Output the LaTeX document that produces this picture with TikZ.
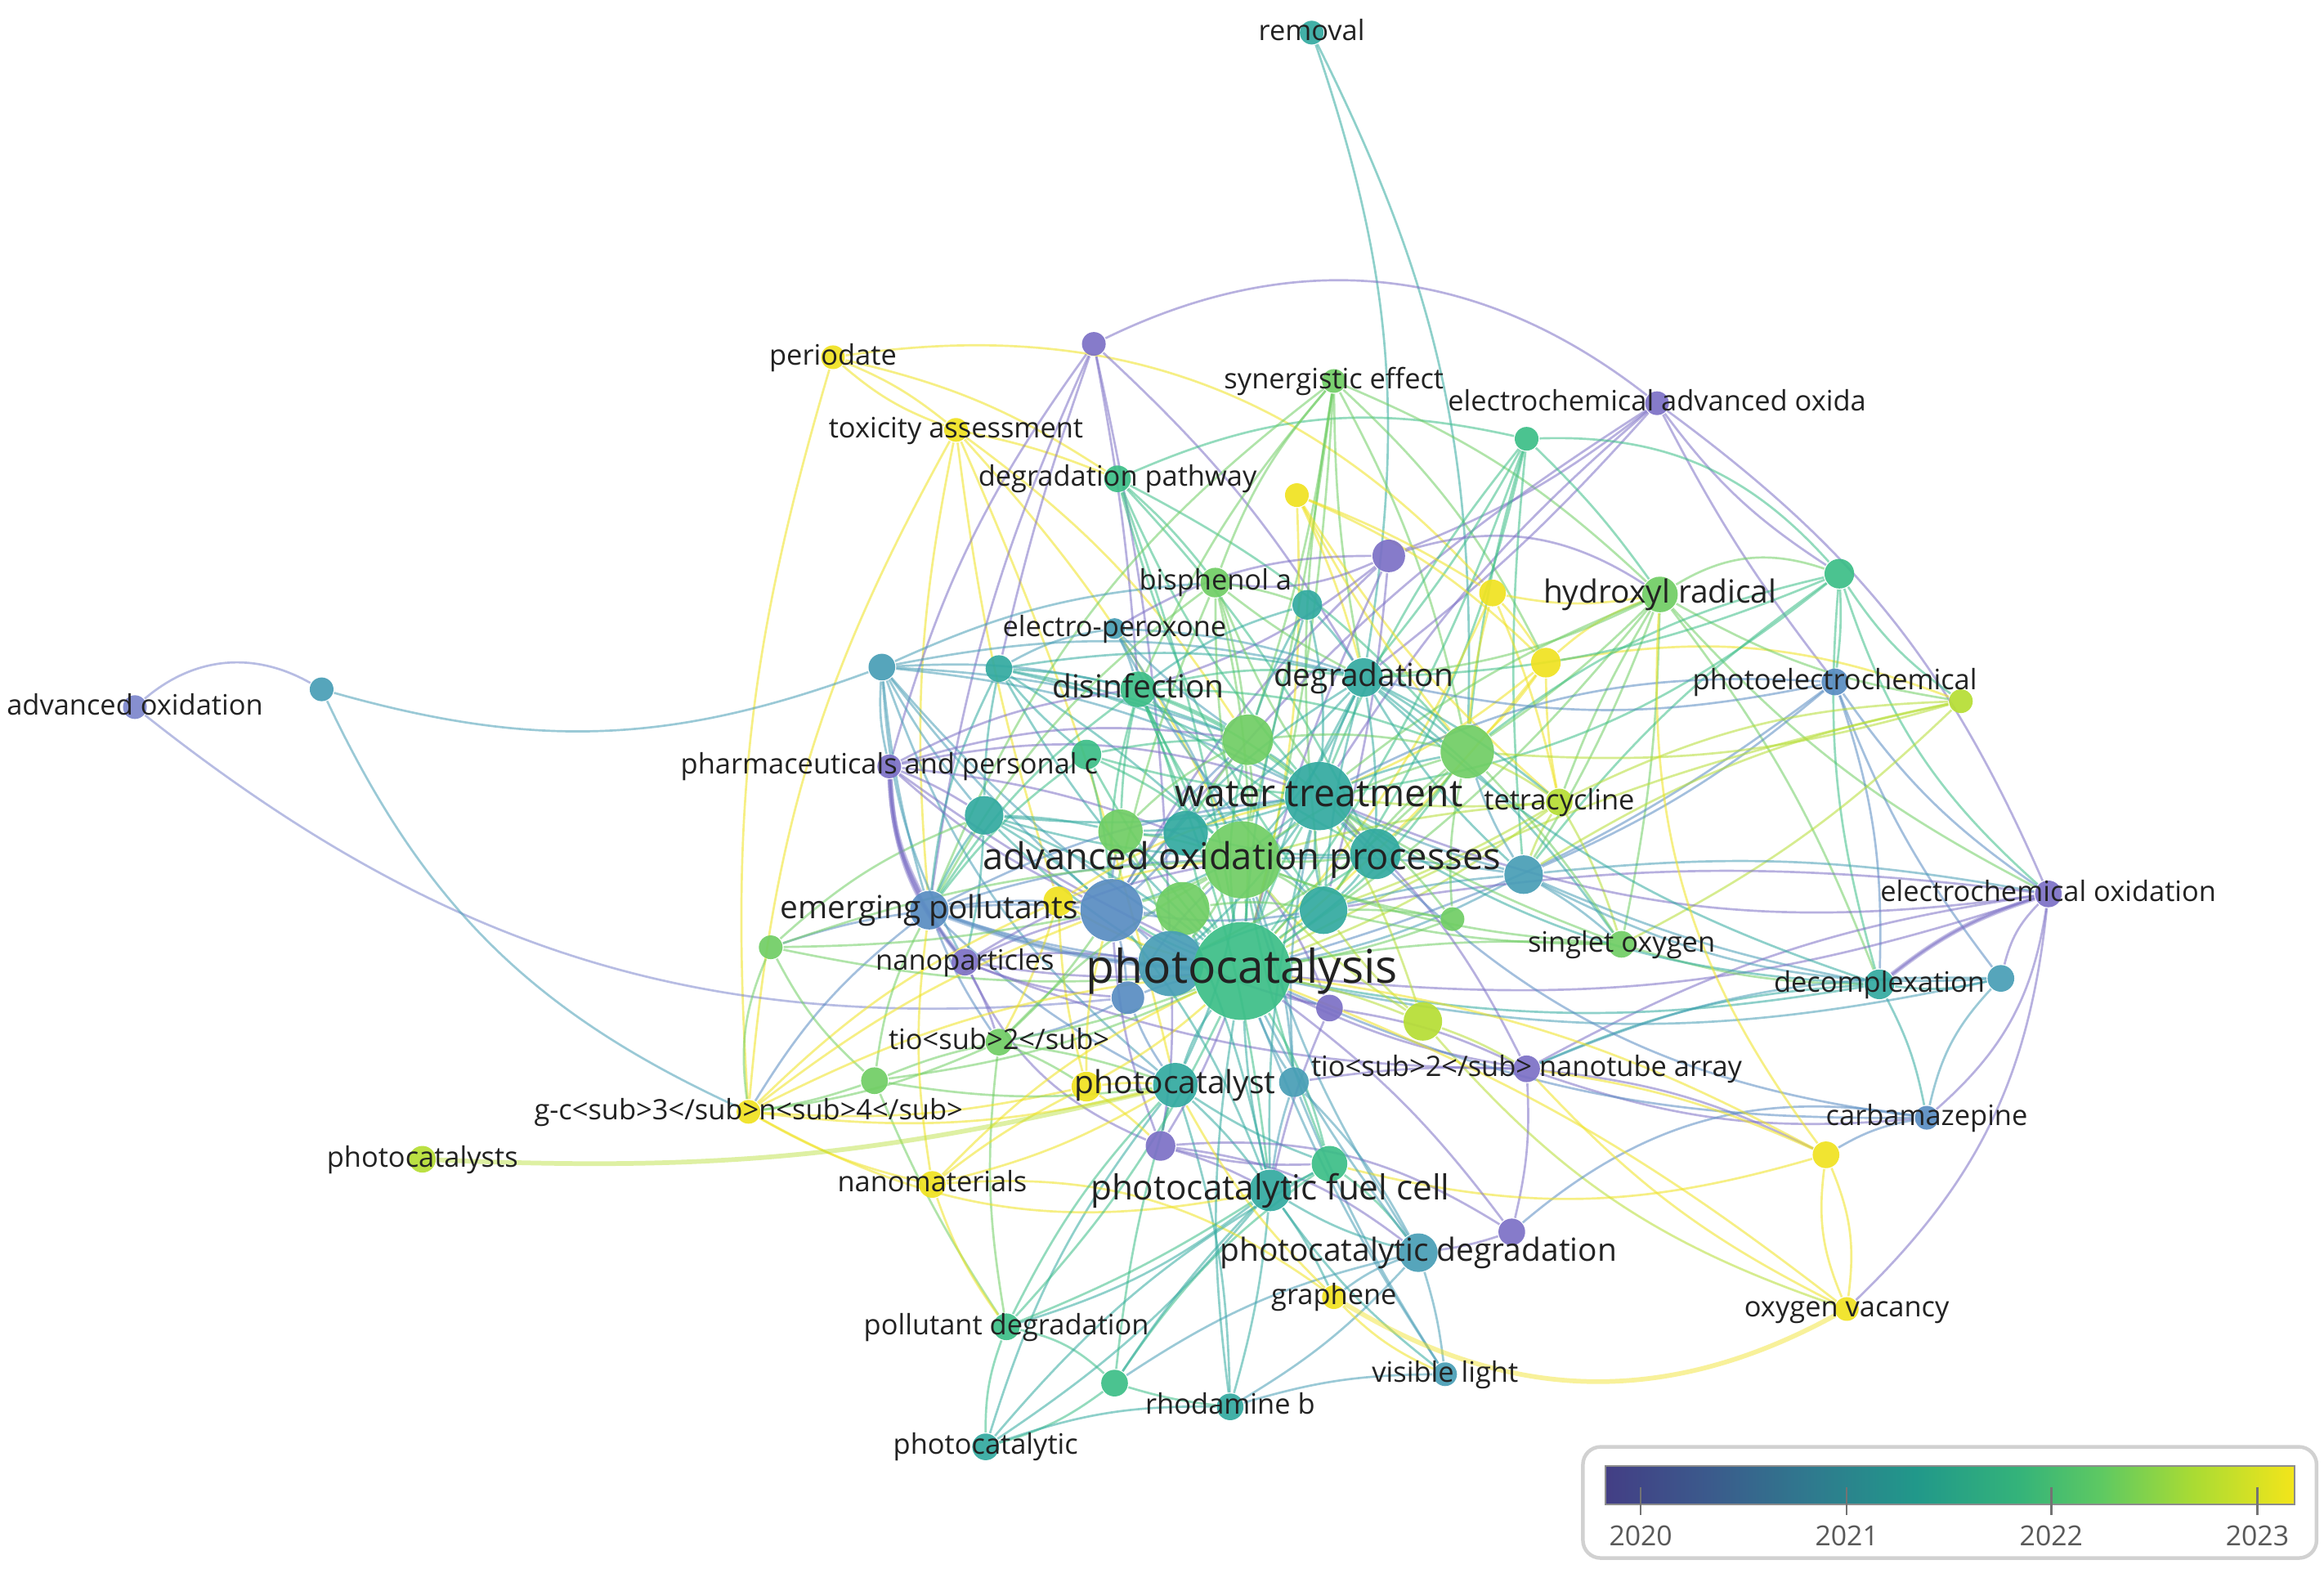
\documentclass[tikz,border=0pt]{standalone}
\usepackage{fontspec}
\setmainfont{Open Sans}
\definecolor{P}{RGB}{124,112,198}
\definecolor{PB}{RGB}{124,134,204}
\definecolor{B}{RGB}{88,140,194}
\definecolor{BT}{RGB}{72,158,182}
\definecolor{T}{RGB}{50,170,160}
\definecolor{TG}{RGB}{60,190,135}
\definecolor{G}{RGB}{112,206,100}
\definecolor{YG}{RGB}{182,222,52}
\definecolor{Y}{RGB}{240,226,32}
\definecolor{labc}{RGB}{34,34,34}
\definecolor{v0}{RGB}{67,62,133}
\definecolor{v1}{RGB}{59,90,140}
\definecolor{v2}{RGB}{47,122,142}
\definecolor{v3}{RGB}{33,152,138}
\definecolor{v4}{RGB}{52,179,122}
\definecolor{v5}{RGB}{94,201,98}
\definecolor{v6}{RGB}{168,219,52}
\definecolor{v7}{RGB}{243,229,26}
\pgfdeclarehorizontalshading{viridis}{100bp}{color(0bp)=(v0); color(25bp)=(v0); color(32.5bp)=(v1); color(40bp)=(v2); color(47.5bp)=(v3); color(55bp)=(v4); color(61bp)=(v5); color(67.5bp)=(v6); color(75bp)=(v7); color(100bp)=(v7)}
\pgfdeclarelayer{bg}
\pgfdeclarelayer{edges}
\pgfsetlayers{bg,edges,main}
\tikzset{
 kw/.style={circle, inner sep=0pt, draw=none, fill opacity=0.92},
 edge/.style={line width=0.42pt, draw opacity=0.55},
 lab/.style={text=labc, inner sep=0pt, anchor=base},
 ls/.style={lab, font=\fontsize{5.4}{6}\selectfont, yshift=-1.46pt},
 lm/.style={lab, font=\fontsize{6.1}{7}\selectfont, yshift=-1.65pt},
 lw/.style={lab, font=\fontsize{7.28}{8}\selectfont, yshift=-1.97pt},
 la/.style={lab, font=\fontsize{7.1}{8}\selectfont, yshift=-1.92pt},
 lp/.style={lab, font=\fontsize{8.93}{10}\selectfont, yshift=-2.41pt},
 lf/.style={lab, font=\fontsize{6.63}{7}\selectfont, yshift=-1.79pt},
 yr/.style={text=black!65, font=\fontsize{5.3}{6}\selectfont, inner sep=0pt}
}
\begin{document}
\begin{tikzpicture}[x=0.01cm, y=-0.01cm]
\begin{pgfonlayer}{bg}
\fill[white] (0,0) rectangle (1568,1064);
\end{pgfonlayer}
\useasboundingbox (0,0) rectangle (1568,1064);
\foreach \n/\x/\y/\r/\c in {
rem/885/22/8/T, peri/562/241/8/Y, tox/645/290/8/Y, dpath/754/323/9/TG, syn/900/257/8/G,
eaop/1118/272/8/P, p1/738/232/8/P, y1/875/334/8/Y, t1/1030/296/8/TG, p2/937/375/11/P,
y2/1007/400/9/Y, y3/1043/447/10/Y, bpa/820/393/10/G, t2/882/408/10/T, hrad/1120/401/12/G,
t3/1241/387/10/TG, epx/752/424/7/BT, t4/595/450/9/BT, t5/674/451/9/T, dis/768/465/12/TG,
deg/920/457/13/T, pec/1238/460/9/B, yg1/1323/473/8/YG, aox/91/477/8/PB, bt1/217/465/8/BT,
g1/842/499/17/G, g2/990/507/18/G, pharm/600/517/8/P, g3/733/509/10/TG, wt/890/537/23/T,
tet/1052/541/9/YG, t6/664/550/13/T, t7/800/562/15/T, g4/756/561/15/G, aopr/838/580/26/G,
t8/928/576/17/T, bt2/1028/590/13/BT, eox/1382/603/9/P, emp/627/614/13/B, y4/714/608/10/Y,
b1/750/614/21/B, g5/798/613/18/G, t9/893/614/16/T, g6/980/620/8/G, g7/520/639/8/G,
nano/651/649/9/P, bt3/790/650/22/BT, pcat/838/655/33/TG, so/1094/637/9/G, decom/1268/664/10/T,
bt4/1350/660/9/BT, b2/761/673/11/B, p3/897/680/9/P, yg2/960/689/13/YG, tio2/674/703/9/G,
tna/1030/721/9/P, pcst/793/732/15/T, y5/733/733/10/Y, t10/873/730/10/BT, g8/590/729/9/G,
gcn/505/750/8/Y, carb/1300/754/8/B, pcsts/285/782/9/YG, p4/783/773/10/P, t11/897/785/12/TG,
pfc/857/803/14/T, nmat/629/799/9/Y, y6/1232/779/9/Y, p5/1020/831/9/P, pdeg/957/845/13/BT,
graph/900/875/8/Y, ovac/1246/883/8/Y, poldeg/679/895/9/TG, vis/975/927/8/BT, t12/752/933/9/TG,
rhod/830/949/9/T, pcic/665/976/9/T}{
  \xglobal\colorlet{c\n}{\c}
  \node[kw, fill=\c, minimum size=\r*0.02cm] (\n) at (\x,\y) {};
}
\begin{pgfonlayer}{edges}
\foreach \a/\b/\d in {
rem/deg/14, rem/g2/14, p1/eaop/32, peri/y2/28, peri/tox/8, peri/tox/-10, peri/dpath/10, peri/gcn/-10,
tox/y4/-5, tox/emp/-8, tox/pcst/5, tox/aopr/8, tox/gcn/-12, tox/g1/10, tox/dpath/5,
p1/pharm/-10, p1/t5/-3, p1/dis/3, p1/emp/-8, p1/deg/8, p1/bt3/5,
dpath/t1/18, dpath/g2/10, dpath/pcat/5, dpath/t8/8, dpath/bpa/5, dpath/wt/-8, dpath/t9/-10,
syn/g1/5, syn/deg/-5, syn/pcat/5, syn/t9/-8, syn/g2/8, syn/bpa/-10, syn/hrad/10, syn/dis/-8, syn/aopr/3, syn/y3/10, syn/emp/-15,
eaop/t3/-10, eaop/eox/15, eaop/p2/8, eaop/deg/5, eaop/pec/-5, eaop/wt/-8, eaop/b1/-10,
t1/t3/25, t1/g2/-5, t1/deg/5, t1/pcat/8, t1/wt/-8, t1/hrad/5, t1/t9/10, t1/bt2/-5,
y1/y2/5, y1/g2/-5, y1/deg/5, y1/y3/10, y1/tet/-8, y1/pcat/8,
p2/bpa/15, p2/hrad/25, p2/epx/-15, p2/t9/5, p2/pcat/-5, p2/b1/-8, p2/dis/10,
y2/y3/5, y2/g2/-5, y2/tet/5, y2/pcat/8, y2/hrad/-10,
y3/g2/5, y3/tet/-5, y3/wt/8, y3/pcat/5, y3/hrad/10, y3/yg1/15,
hrad/t3/25, hrad/g2/5, hrad/wt/-8, hrad/pcat/8, hrad/so/5, hrad/tet/-5, hrad/yg1/-10, hrad/deg/10, hrad/eox/-10, hrad/decom/8, hrad/bt2/5,
t3/pec/5, t3/yg1/-10, t3/eox/-15, t3/g2/-12, t3/deg/10, t3/bt2/-8, t3/decom/-10, t3/wt/15,
pec/eox/-10, pec/decom/10, pec/bt2/8, pec/wt/-15, pec/deg/12, pec/bt4/-8, pec/pcat/10,
yg1/g2/10, yg1/bt2/-10, yg1/so/8, yg1/tet/-12, yg1/pcat/-8,
aox/bt1/35, aox/b2/-22, bt1/t4/-18, bt1/gcn/-20,
t4/emp/-5, t4/pharm/-8, t4/dis/8, t4/wt/10, t4/t6/-5, t4/pcat/-8, t4/nano/-12, t4/b1/-5, t4/g1/8, t4/deg/12, t4/bpa/10, t4/pcst/-15,
t5/dis/5, t5/g3/-5, t5/pcat/-8, t5/aopr/5, t5/wt/8, t5/t6/-5, t5/emp/-10, t5/g1/5, t5/deg/10,
epx/dis/5, epx/deg/8, epx/g1/-5, epx/t9/-8, epx/aopr/5, epx/t5/-10,
bpa/g1/5, bpa/deg/-5, bpa/pcat/8, bpa/aopr/-5, bpa/t2/5, bpa/t8/-8, bpa/emp/-12, bpa/b1/-5,
t2/deg/5, t2/g1/-5, t2/wt/8, t2/pcat/-6, t2/dis/-10,
dis/g1/5, dis/wt/8, dis/aopr/-5, dis/pcat/6, dis/deg/10, dis/g4/-5, dis/t7/5, dis/b1/-8, dis/emp/-10, dis/pfc/8, dis/t8/-6, dis/g2/10,
deg/g2/5, deg/wt/-5, deg/aopr/8, deg/pcat/-6, deg/t8/5, deg/bt2/-8, deg/tet/6, deg/t9/-5, deg/so/8, deg/b1/-10, deg/t7/6,
pharm/emp/-12, pharm/nano/-18, pharm/b1/-8, pharm/t6/5, pharm/wt/15, pharm/aopr/8, pharm/dis/10, pharm/pcat/-5, pharm/g1/12,
g3/g1/5, g3/wt/-5, g3/aopr/8, g3/pcat/-6, g3/b1/5, g3/emp/-8,
tet/wt/5, tet/aopr/-5, tet/pcat/8, tet/g2/-5, tet/so/6, tet/bt2/-6, tet/t9/5,
t6/emp/-5, t6/b1/5, t6/aopr/-5, t6/pcat/8, t6/wt/-8, t6/nano/5, t6/g4/5, t6/bt3/-6,
bt2/eox/8, bt2/decom/-6, bt2/wt/5, bt2/aopr/-5, bt2/pcat/8, bt2/so/5, bt2/t9/-5, bt2/g2/6,
eox/decom/-10, eox/bt4/-15, eox/carb/20, eox/wt/15, eox/ovac/20, eox/pcat/12, eox/tna/-10, eox/t9/-8,
emp/nano/-5, emp/b1/5, emp/pcat/-8, emp/aopr/8, emp/wt/10, emp/g7/-5, emp/gcn/-10, emp/y4/5, emp/pcst/-8, emp/tio2/-6, emp/bt3/-5,
y4/b1/5, y4/pcat/-8, y4/aopr/8, y4/gcn/-10, y4/y5/-6, y4/tio2/5, y4/wt/10,
g7/b1/-5, g7/aopr/8, g7/pcat/-8, g7/gcn/-15, g7/t6/10, g7/g8/-10,
nano/b1/5, nano/pcat/-6, nano/bt3/8, nano/p4/-20, nano/tio2/5, nano/aopr/10, nano/tna/-10, nano/b2/-8,
so/wt/5, so/pcat/-6, so/aopr/8, so/g2/-5, so/decom/-8, so/t9/6,
decom/bt4/-10, decom/carb/8, decom/tna/-10, decom/wt/15, decom/pcat/10, decom/deg/12,
bt4/carb/-15, bt4/tna/-12, bt4/bt2/15, bt4/pcat/12,
b2/pcat/5, b2/b1/-5, b2/aopr/8, b2/pcst/-6, b2/tio2/8,
p3/pcat/5, p3/aopr/-8, p3/tna/8, p3/pfc/-5, p3/b1/10,
yg2/pcat/-5, yg2/aopr/8, yg2/wt/-6, yg2/tna/5, yg2/t9/6, yg2/ovac/-15,
tio2/pcat/-5, tio2/pcst/5, tio2/g8/-5, tio2/gcn/8, tio2/y5/5, tio2/b1/-6, tio2/poldeg/-8, tio2/aopr/8,
tna/carb/-12, tna/pcat/8, tna/t10/-5, tna/y6/10, tna/wt/-10, tna/p5/8,
pcst/pfc/5, pcst/p4/-5, pcst/pcat/8, pcst/t11/-6, pcst/pcic/-10, pcst/rhod/8, pcst/aopr/-8,
y5/pcst/5, y5/nmat/-5, y5/gcn/8, y5/pcat/-6, y5/p4/5, y5/b1/8,
t10/pcat/5, t10/pfc/-5, t10/pdeg/8, t10/vis/-5, t10/aopr/-8, t10/wt/8,
g8/gcn/5, g8/pcat/-8, g8/poldeg/-5, g8/emp/10, g8/pcst/-8,
gcn/nmat/-8, gcn/pcst/-10, gcn/pfc/-20, gcn/pcat/10, gcn/b1/8,
carb/y6/-10, carb/p5/-25, carb/wt/20, carb/pcat/12,
p4/pfc/5, p4/pcat/-5, p4/p5/18, p4/pdeg/15, p4/t11/-8, p4/b1/8, p4/bt3/-5,
t11/pfc/5, t11/pcat/-8, t11/pdeg/8, t11/t12/-10, t11/aopr/5,
pfc/pcat/5, pfc/pdeg/-8, pfc/rhod/5, pfc/t12/-5, pfc/pcic/8, pfc/vis/-8, pfc/graph/5, pfc/poldeg/10, pfc/b1/-8, pfc/wt/8, pfc/g5/-5,
nmat/poldeg/-8, nmat/graph/20, nmat/emp/8, nmat/pcst/-8, nmat/pcat/10,
y6/ovac/-15, y6/ovac/15, y6/tna/-8, y6/t11/15, y6/pcat/-10, y6/hrad/20,
p5/pdeg/5, p5/pcat/-8,
pdeg/vis/5, pdeg/graph/-8, pdeg/pcat/5, pdeg/rhod/8, pdeg/t12/-10, pdeg/aopr/8,
graph/vis/-10, graph/pcst/8,
ovac/tna/10, ovac/pcat/-8,
poldeg/pcic/-10, poldeg/t12/15, poldeg/pfc/-5, poldeg/pcst/8, poldeg/pcat/-8,
vis/rhod/-8, vis/pcat/6, t12/pcic/10, t12/rhod/-5, t12/pcst/5, rhod/pcic/-10, rhod/pcat/8, pcic/t11/10,
pcat/wt/5, pcat/aopr/-5, pcat/b1/5, pcat/g5/-5, pcat/t9/5, pcat/t7/8, pcat/g4/-8, pcat/g1/10, pcat/g2/-10, pcat/t8/8,
wt/aopr/8, wt/g1/-5, wt/g2/5, wt/t7/-8, wt/g4/8, wt/t8/-5, wt/b1/10, wt/t9/-8, wt/bt3/6,
aopr/b1/5, aopr/g1/-8, aopr/g2/8, aopr/g5/-5, aopr/t7/5, aopr/g4/-5, aopr/t9/8, aopr/t8/-5, aopr/bt3/5,
b1/bt3/5, b1/g5/-6, b1/g4/5, b1/t7/-5, b1/g1/8, b1/t9/-8,
g1/g2/8, g1/t7/-5, g1/t8/6, g1/g4/-8, g2/t8/5, g2/t9/-8, g2/bt3/10,
t9/bt3/-5, g5/bt3/5, g5/t9/8, t7/g4/5, t7/t8/-8, g4/bt3/8, t8/t9/5,
g6/pcat/5, g6/wt/-8, g6/aopr/5, g6/t9/-5, g6/g2/8}
  \draw[edge, draw=c\a] (\a) to[bend left=\d] (\b);
\foreach \a/\b/\d/\w in {pharm/emp/-12/1, pharm/nano/-18/0.9, emp/pcat/-8/1, eox/decom/-10/0.9, ovac/graph/30/0.9, pcsts/pcst/-8/0.9}
  \draw[line width=\w pt, draw opacity=0.45, draw=c\a] (\a) to[bend left=\d] (\b);
\end{pgfonlayer}
% labels
\node[ls] (l-rem) at (rem) {removal};
\node[ls] (l-peri) at (peri) {periodate};
\node[ls] (l-tox) at (tox) {toxicity assessment};
\node[ls] (l-dpath) at (dpath) {degradation pathway};
\node[ls] (l-syn) at (syn) {synergistic effect};
\node[ls] (l-eaop) at (eaop) {electrochemical advanced oxida};
\node[ls] (l-bpa) at (bpa) {bisphenol a};
\node[lm] (l-hrad) at (hrad) {hydroxyl radical};
\node[ls] (l-epx) at (epx) {electro-peroxone};
\node[lm] (l-dis) at (dis) {disinfection};
\node[lm] (l-deg) at (deg) {degradation};
\node[ls] (l-pec) at (pec) {photoelectrochemical};
\node[ls] (l-aox) at (aox) {advanced oxidation};
\node[ls] (l-pharm) at (pharm) {pharmaceuticals and personal c};
\node[lw] (l-wt) at (wt) {water treatment};
\node[ls] (l-tet) at (tet) {tetracycline};
\node[la] (l-aopr) at (aopr) {advanced oxidation processes};
\node[ls] (l-eox) at (eox) {electrochemical oxidation};
\node[lm] (l-emp) at (emp) {emerging pollutants};
\node[ls] (l-nano) at (nano) {nanoparticles};
\node[lp] (l-pcat) at (pcat) {photocatalysis};
\node[ls] (l-so) at (so) {singlet oxygen};
\node[ls] (l-decom) at (decom) {decomplexation};
\node[ls] (l-tio2) at (tio2) {tio<sub>2</sub>};
\node[ls] (l-tna) at (tna) {tio<sub>2</sub> nanotube array};
\node[lm] (l-pcst) at (pcst) {photocatalyst};
\node[ls] (l-gcn) at (gcn) {g-c<sub>3</sub>n<sub>4</sub>};
\node[ls] (l-carb) at (carb) {carbamazepine};
\node[ls] (l-pcsts) at (pcsts) {photocatalysts};
\node[lf] (l-pfc) at (pfc) {photocatalytic fuel cell};
\node[ls] (l-nmat) at (nmat) {nanomaterials};
\node[lm] (l-pdeg) at (pdeg) {photocatalytic degradation};
\node[ls] (l-graph) at (graph) {graphene};
\node[ls] (l-ovac) at (ovac) {oxygen vacancy};
\node[ls] (l-poldeg) at (poldeg) {pollutant degradation};
\node[ls] (l-vis) at (vis) {visible light};
\node[ls] (l-rhod) at (rhod) {rhodamine b};
\node[ls] (l-pcic) at (pcic) {photocatalytic};
% colour bar
\draw[rounded corners=3.4pt, draw=black!18, line width=0.7pt, fill=white] (1068,976) rectangle (1563,1051);
\shade[shading=viridis] (1083,989) rectangle (1548,1015);
\draw[black!45, line width=0.35pt] (1083,989) rectangle (1548,1015);
\foreach \t/\x in {2020/1107, 2021/1246, 2022/1384, 2023/1523}{
  \draw[black!55, line width=0.4pt] (\x,1003) -- (\x,1022);
  \node[yr] (yr\t) at (\x,1036) {\t};
}
\end{tikzpicture}
\end{document}
